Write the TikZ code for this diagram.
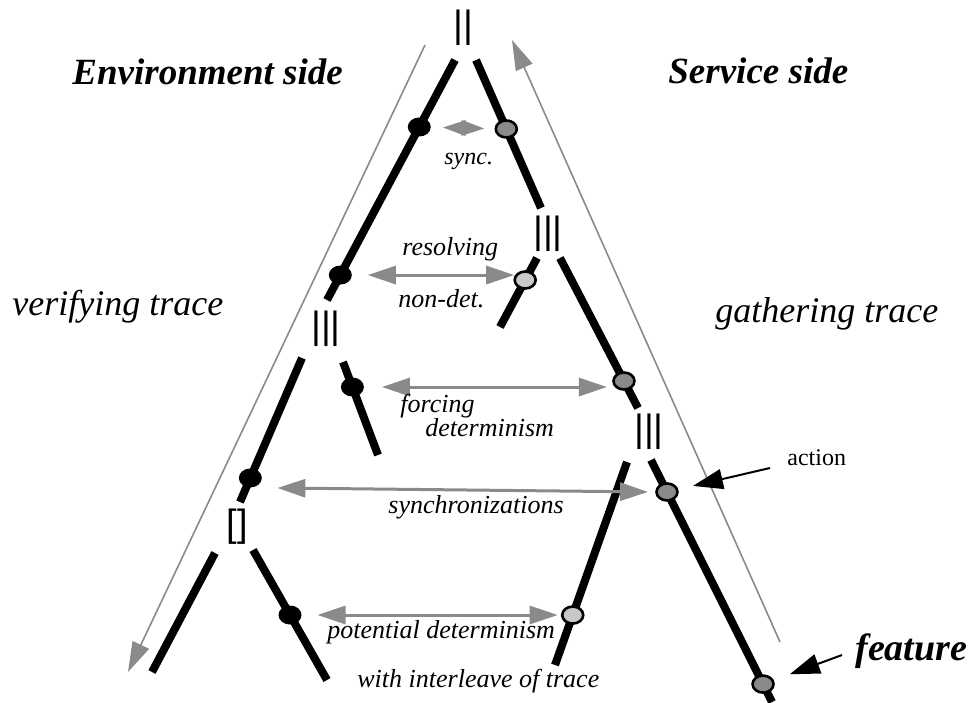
\documentclass[tikz,border=0pt]{standalone}
\usepackage{fontspec}
\setmainfont{Liberation Serif}
\setsansfont{Liberation Sans}
\usetikzlibrary{arrows.meta,shapes.geometric}
\definecolor{midgrey}{HTML}{8A8A8A}
\definecolor{lightgrey}{HTML}{C8C8C8}
\begin{document}
\begin{tikzpicture}[x=0.5pt, y=-0.5pt,
	track/.style={line width=4pt},
	edot/.style={ellipse, fill=black, inner sep=0pt, minimum width=11.5pt, minimum height=9.5pt},
	sdot/.style={ellipse, draw=black, line width=1.3pt, fill=midgrey, inner sep=0pt, minimum width=10.5pt, minimum height=8.5pt},
	ldot/.style={sdot, fill=lightgrey},
	op/.style={font=\sffamily\fontsize{19}{19}\selectfont, inner sep=0pt},
	lbl/.style={font=\fontsize{13}{15}\selectfont\itshape, inner sep=0pt, anchor=base west},
	side/.style={font=\fontsize{18}{20}\selectfont\itshape, inner sep=0pt, anchor=base west},
	ttl/.style={font=\fontsize{18.5}{20}\selectfont\bfseries\itshape, inner sep=0pt, anchor=base west},
	guide/.style={midgrey, line width=0.8pt, -{Triangle[length=15pt, width=9pt]}},
	sarrow/.style={midgrey, line width=1.5pt, {Triangle[length=14pt, width=9pt]}-{Triangle[length=14pt, width=9pt]}},
	pointer/.style={black, line width=1pt, -{Triangle[length=15pt, width=10pt]}}]
	\useasboundingbox (0,0) rectangle (969,702);
	% operators
	\node[op] (par) at (463,28) {||};
	\node[op] (il1) at (548,234) {|||};
	\node[op] (il2) at (326,329) {|||};
	\node[op] (il3) at (649,432) {|||};
	\node[op] (ch) at (237,527) {[]};
	% branch ends
	\coordinate (l1a) at (455,60); \coordinate (l1b) at (327,300);
	\coordinate (r1a) at (476,60); \coordinate (r1b) at (541,208);
	\coordinate (r2a) at (537,258); \coordinate (r2b) at (500,327);
	\coordinate (r3a) at (560,258); \coordinate (r3b) at (638,408);
	\coordinate (l2a) at (302,358); \coordinate (l2b) at (240,502);
	\coordinate (l3a) at (343,362); \coordinate (l3b) at (378,455);
	\coordinate (r4a) at (627,462); \coordinate (r4b) at (555,665);
	\coordinate (r5a) at (651,460); \coordinate (r5b) at (772,702);
	\coordinate (l4a) at (215,553); \coordinate (l4b) at (152,672);
	\coordinate (l5a) at (253,550); \coordinate (l5b) at (327,680);
	% traces
	\draw[track] (l1a) -- node[edot, pos=0.279] (e1) {} node[edot, pos=0.896] (e2) {} (l1b);
	\draw[track] (r1a) -- node[sdot, pos=0.466] (s1) {} (r1b);
	\draw[track] (r2a) -- node[ldot, pos=0.319] (s2) {} (r2b);
	\draw[track] (r3a) -- node[sdot, pos=0.82] (s3) {} (r3b);
	\draw[track] (l2a) -- node[edot, pos=0.833] (e3) {} (l2b);
	\draw[track] (l3a) -- node[edot, pos=0.269] (e4) {} (l3b);
	\draw[track] (r4a) -- node[ldot, pos=0.754] (s4) {} (r4b);
	\draw[track] (r5a) -- node[sdot, pos=0.132] (s5) {} node[sdot, pos=0.926] (s6) {} (r5b);
	\draw[track] (l4a) -- (l4b);
	\draw[track] (l5a) -- node[edot, pos=0.5] (e5) {} (l5b);
	% direction of the traces
	\coordinate (vt) at (425,45); \coordinate (vb) at (128,672);
	\coordinate (gb) at (780,642); \coordinate (gt) at (512,40);
	\draw[guide] (vt) -- (vb);
	\draw[guide] (gb) -- (gt);
	% synchronizations
	\draw[midgrey, line width=1.5pt, {Triangle[length=11.5pt, width=7.5pt]}-{Triangle[length=11.5pt, width=7.5pt]}, shorten <=4pt, shorten >=5pt] (e1) -- (s1);
	\draw[sarrow, shorten <=6pt, shorten >=5.5pt] (e2) -- (e2 -| s2);
	\draw[sarrow, shorten <=7pt, shorten >=8.5pt] (e4) -- (e4 -| s3);
	\draw[sarrow] ([shift={(27,10)}]e3.center) -- ([shift={(-19,0)}]s5.center);
	\draw[sarrow, shorten <=6pt, shorten >=7.5pt] (e5) -- (e5 -| s4);
	% labels
	\node[ttl] (env) at (72,84) {Environment side};
	\node[ttl] (srv) at (668,83) {Service side};
	\node[side] (ver) at (12,315) {verifying trace};
	\node[side] (gat) at (715,322) {gathering trace};
	\node[lbl, font=\fontsize{12}{14}\selectfont\itshape] (syn) at (444,164) {sync.};
	\node[lbl] (res) at (402,255) {resolving};
	\node[lbl] (nd) at (398,307) {non-det.};
	\node[lbl] (frc) at (400,412) {forcing};
	\node[lbl] (det) at (425,436) {determinism};
	\node[lbl] (syns) at (388,513) {synchronizations};
	\node[lbl] (pot) at (327,638) {potential determinism};
	\node[lbl] (wit) at (357,687) {with interleave of trace};
	\node[inner sep=0pt, anchor=base west, font=\fontsize{12}{14}\selectfont] (act) at (787,465) {action};
	\node[ttl, font=\fontsize{19}{21}\selectfont\bfseries\itshape] (feat) at (855,660) {feature};
	\draw[pointer, shorten >=7.5pt] ([shift={(-17,3)}]act.base west) -- (s5);
	\draw[pointer, shorten >=8.5pt] ([shift={(-13,-5)}]feat.base west) -- (s6);
\end{tikzpicture}
\end{document}
